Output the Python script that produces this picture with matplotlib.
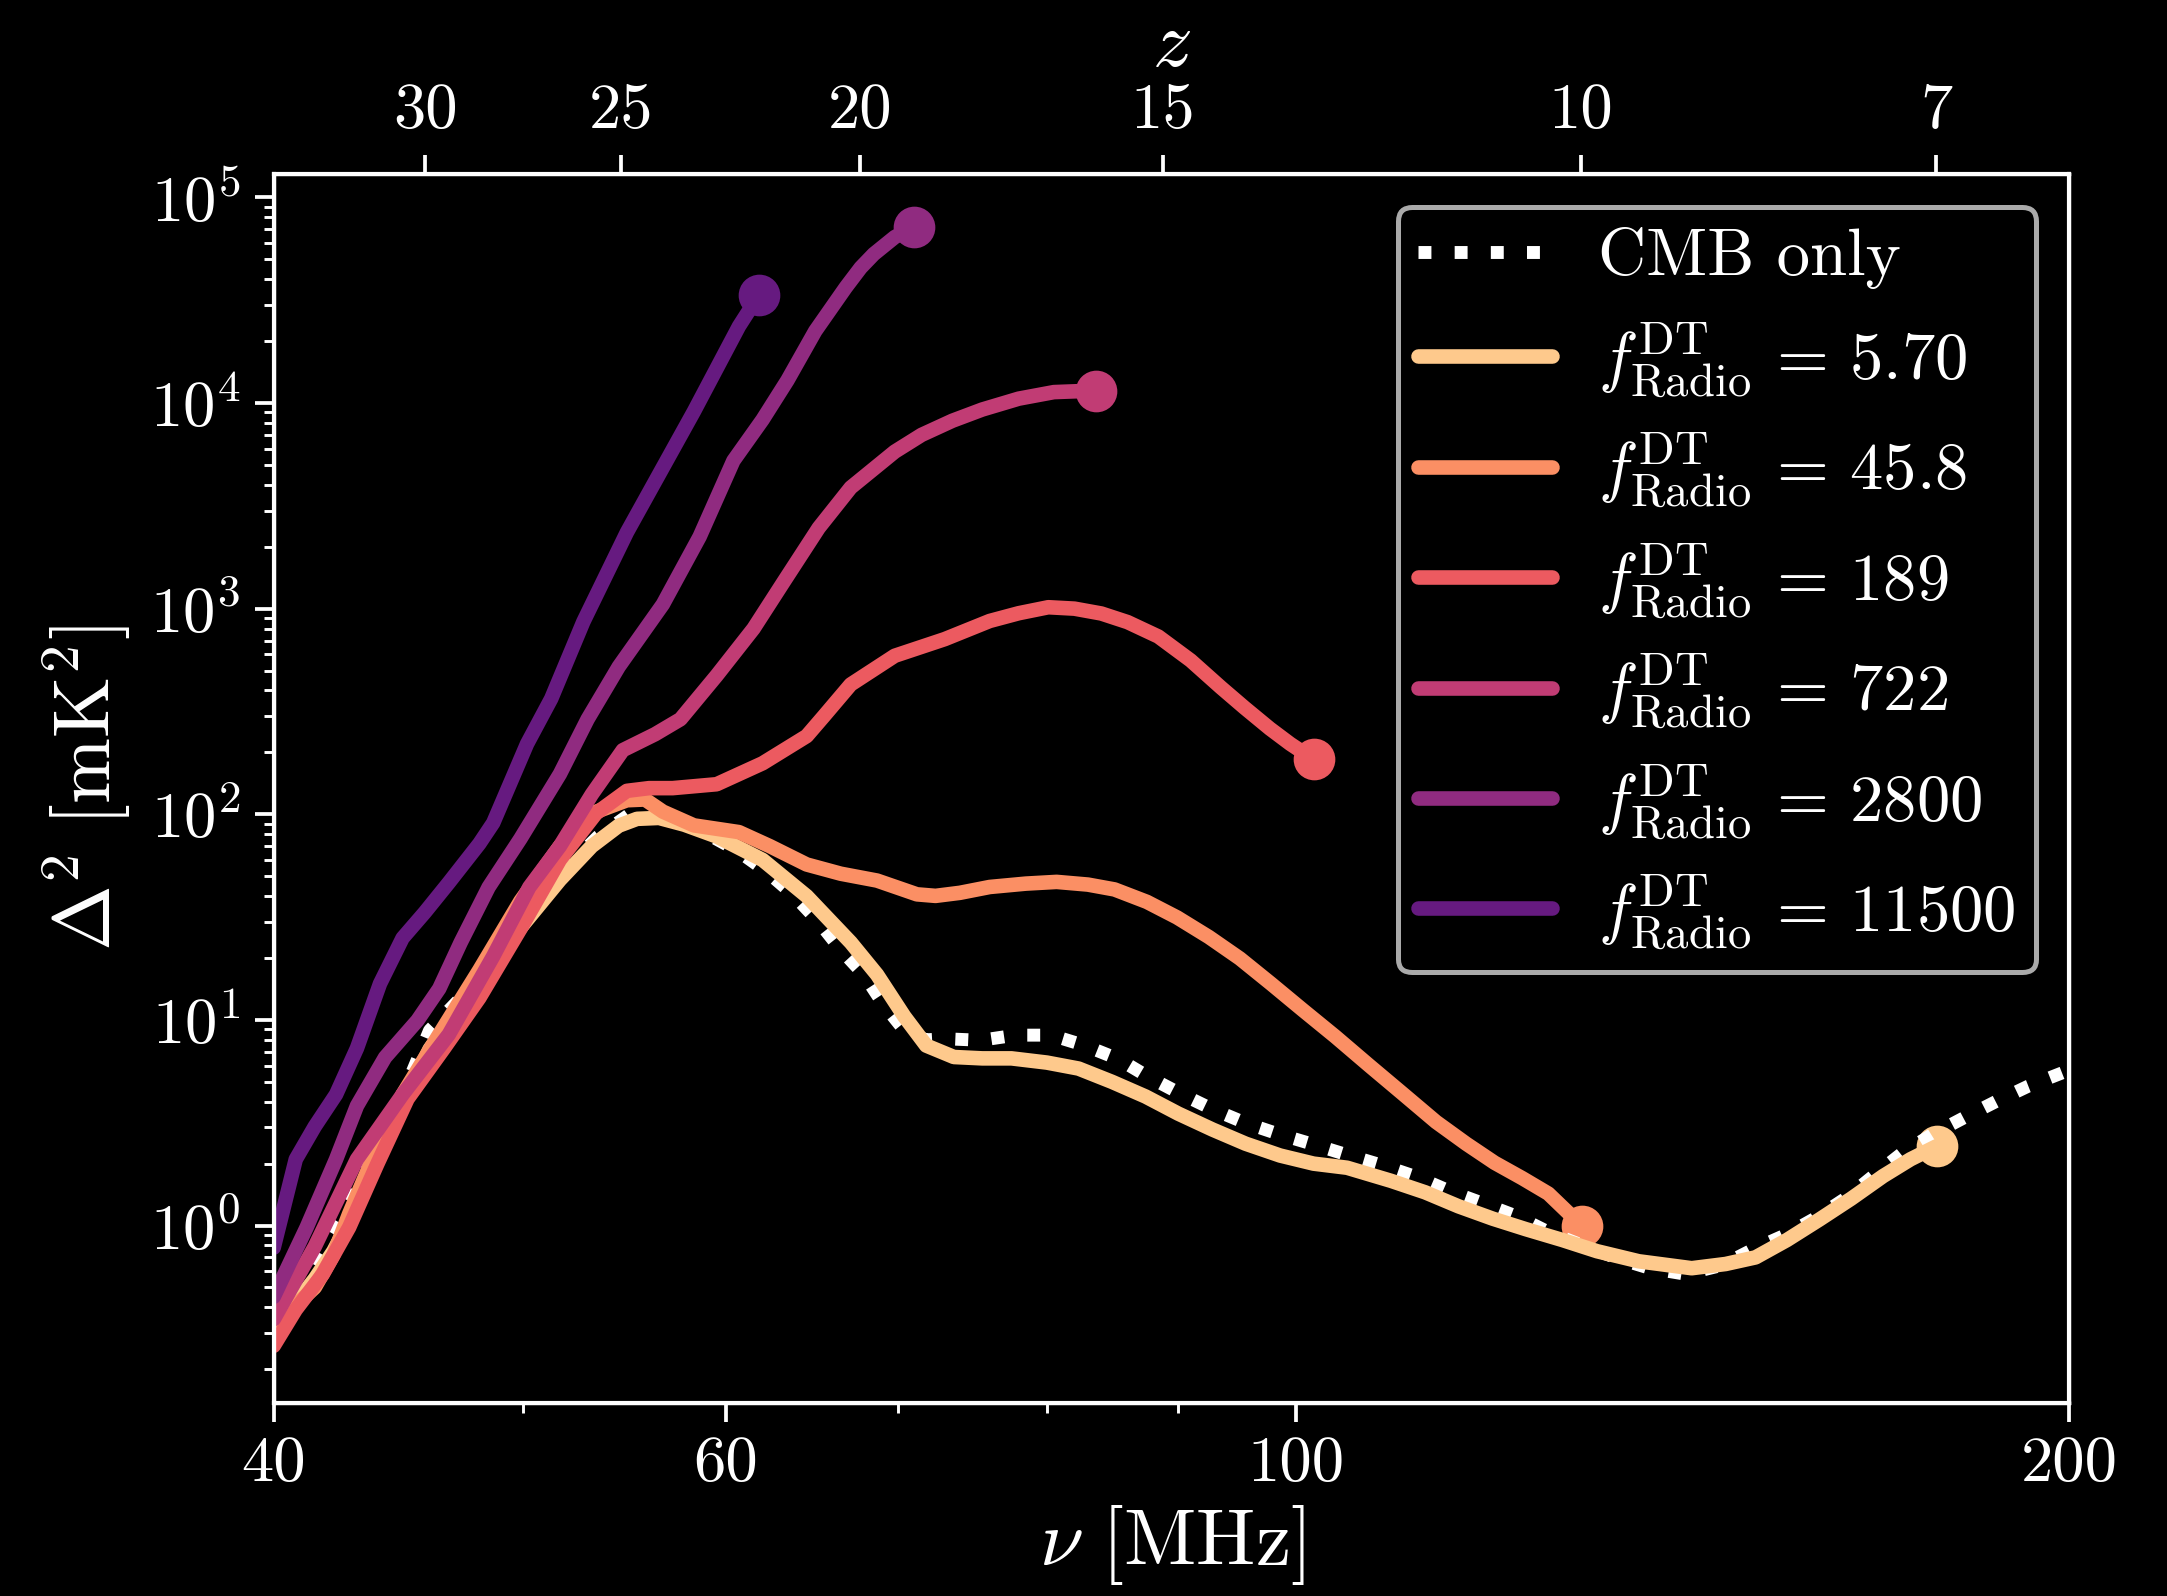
import matplotlib
matplotlib.use('Agg')
import matplotlib.pyplot as plt
from matplotlib.ticker import NullLocator, LogLocator
import numpy as np

plt.rcParams.update({
    'font.family': 'serif',
    'font.serif': ['cmr10'],
    'mathtext.fontset': 'cm',
    'axes.formatter.use_mathtext': True,
    'axes.unicode_minus': False,
    'figure.facecolor': 'black',
    'axes.facecolor': 'black',
    'text.color': 'white',
    'axes.edgecolor': 'white',
    'axes.labelcolor': 'white',
    'xtick.color': 'white',
    'ytick.color': 'white',
})

# CMB-only reference curve
nu_cmb = [40.0, 41.0, 42.0, 43.0, 44.0, 45.0, 46.0, 47.5, 49.0, 50.5, 52.0, 53.5, 55.4, 57.0,
          58.5, 60.6, 62.2, 63.7, 65.2, 66.5, 67.9, 69.1, 70.5, 71.8, 73.0, 75.4, 77.8, 80.3,
          82.7, 85.3, 87.7, 90.2, 92.8, 95.6, 98.6, 101.7, 104.8, 108.1, 111.5, 114.8, 118.3,
          121.9, 125.4, 130.0, 134.0, 137.3, 141.8, 146.5, 150.8, 155.1, 159.4, 163.9, 167.9,
          172.3, 176.9, 182.0, 187.4, 192.8, 198.8, 200.0]
d_cmb = [0.33, 0.5, 0.85, 1.4, 2.6, 4.6, 8.9, 13.5, 22, 36, 55, 78, 106, 100,
         85, 66.7, 52.9, 40.9, 30.0, 22.0, 16.6, 11.9, 8.71, 8.0, 8.1, 7.96, 8.43, 8.43,
         7.53, 6.45, 5.25, 4.37, 3.68, 3.15, 2.77, 2.47, 2.2, 1.96, 1.72, 1.47, 1.28,
         1.11, 0.93, 0.78, 0.68, 0.62, 0.58, 0.64, 0.77, 0.90, 1.09, 1.37, 1.75,
         2.26, 2.77, 3.34, 4.02, 4.76, 5.53, 5.7]

# f_Radio^DT = 5.70
nu_a = [40.0, 40.8, 41.5, 42.2, 42.8, 43.9, 45.1, 46.0, 47.0, 48.1, 49.9, 51.7, 53.2, 54.5,
        55.4, 56.5, 57.8, 59.5, 62.0, 64.5, 67.1, 68.7, 70.4, 71.8, 73.6, 75.5, 77.5, 80.0,
        82.3, 84.8, 87.4, 90.0, 92.8, 95.6, 98.6, 101.6, 104.7, 108.9, 112.3, 115.7, 119.3,
        122.9, 127.0, 131.0, 136.0, 142.6, 147.0, 151.0, 155.3, 159.9, 164.5, 169.3, 173.5, 177.6]
d_a = [0.33, 0.42, 0.55, 0.75, 1.05, 2.2, 4.4, 7.2, 10.5, 15.5, 28, 48, 70, 88,
       95, 96, 89, 78, 60, 40, 23.8, 16.6, 10.4, 7.5, 6.6, 6.5, 6.5, 6.2,
       5.8, 5.0, 4.24, 3.5, 2.93, 2.5, 2.19, 2.0, 1.91, 1.65, 1.45, 1.24, 1.08,
       0.96, 0.85, 0.75, 0.67, 0.62, 0.65, 0.70, 0.85, 1.07, 1.35, 1.74, 2.1, 2.43]

# f = 45.8
nu_b = [40.0, 40.35, 40.8, 41.5, 42.2, 42.8, 43.7, 44.9, 46.4, 48.1, 49.9, 51.7, 53.2, 54.9,
        55.8, 56.7, 58.3, 60.7, 62.4, 64.5, 66.5, 68.7, 71.2, 72.4, 74.0, 76.0, 78.5, 80.7,
        83.0, 85.0, 87.5, 89.9, 92.5, 95.1, 97.8, 100.6, 103.6, 106.8, 110.0, 113.4, 116.5,
        119.5, 122.5, 125.4, 129.3]
d_b = [0.32, 0.37, 0.41, 0.50, 0.72, 1.14, 2.1, 4.34, 8.5, 17.5, 37.8, 70, 101, 117,
       118, 103, 88.3, 81.9, 70, 57, 51.4, 47.6, 40.8, 40.1, 41.5, 44.3, 46, 46.9,
       45.5, 43.1, 37.5, 31.5, 25.3, 19.9, 15.0, 11.2, 8.3, 6.0, 4.4, 3.19, 2.5,
       2.02, 1.7, 1.43, 0.99]

# f = 189
nu_c = [40.0, 40.8, 41.8, 42.8, 43.9, 45.1, 46.6, 48.1, 49.9, 51.7, 53.4, 54.9, 56.0, 57.2,
        59.5, 62.0, 64.5, 65.5, 67.1, 69.8, 73.0, 76.0, 78.0, 80.1, 82.0, 84.0, 86.0, 88.4,
        91.0, 93.5, 95.5, 97.7, 99.5, 101.6]
d_c = [0.26, 0.39, 0.58, 0.98, 2.0, 4.13, 7.28, 12.8, 27.7, 60.1, 101, 130, 134, 134,
       140, 177, 240, 300, 428, 590, 711, 871, 950, 1016, 1000, 947, 860, 732,
       560, 414, 330, 261, 220, 185]

# f = 722
nu_d = [40.0, 41.5, 43.1, 44.9, 46.8, 48.7, 50.3, 51.7, 53.2, 54.7, 56.3, 57.6, 59.5, 61.5,
        63.2, 65.2, 67.1, 69.8, 71.5, 73.5, 75.5, 78.0, 80.5, 83.6]
d_d = [0.35, 0.79, 2.1, 4.34, 8.5, 20.4, 44.2, 70, 125, 205, 245, 290, 473, 800,
       1357, 2470, 3880, 5800, 7000, 8200, 9300, 10500, 11300, 11500]

# f = 2800
nu_e = [40.0, 41.2, 42.3, 43.1, 44.2, 45.5, 46.4, 47.3, 48.5, 49.9, 51.7, 53.0, 54.5, 56.7,
        58.6, 60.4, 62.0, 63.4, 65.0, 66.8, 67.7, 68.5, 69.8, 71.0]
d_e = [0.45, 0.98, 2.1, 3.82, 6.57, 9.93, 14.2, 23.8, 44.2, 76, 157, 290, 522, 1050,
       2240, 5240, 8300, 12900, 22400, 36500, 45500, 53000, 64100, 71600]

# f = 11500
nu_f = [40.0, 40.8, 41.5, 42.3, 43.1, 44.0, 44.9, 45.8, 46.8, 48.1, 48.7, 50.2, 51.3, 52.8,
        54.9, 58.3, 60.7, 61.8]
d_f = [0.78, 2.1, 3.03, 4.34, 7.28, 15, 25, 33.3, 46.5, 72, 90.8, 220, 365, 864,
       2350, 9100, 23600, 33500]

labels = ['5.70', '45.8', '189', '722', '2800', '11500']
colors = ['#fec98c', '#fb8f64', '#ec5a60', '#c13c74', '#902b80', '#661a80']
series = [(nu_a, d_a), (nu_b, d_b), (nu_c, d_c), (nu_d, d_d), (nu_e, d_e), (nu_f, d_f)]

z_ticks = [30, 25, 20, 15, 10, 7]

fig = plt.figure(figsize=(2167/300, 1596/300), dpi=300)
ax = fig.add_axes([0.1263, 0.1209, 0.8285, 0.7701])

ax.plot(nu_cmb, d_cmb, color='white', ls=(0, (1.0, 1.8)), lw=3.1, zorder=2, label='CMB only')
for (nu, d), lab, c in zip(series, labels, colors):
    ax.plot(nu, d, color=c, lw=3.5, zorder=3, solid_joinstyle='round', solid_capstyle='round',
            label=r'$f^{\rm DT}_{\rm Radio}\,=\,%s$' % lab)
    ax.plot(nu[-1], d[-1], 'o', color=c, ms=9, zorder=1)

ax.set_xscale('log')
ax.set_yscale('log')
ax.set_xlim(40, 200)
ax.set_ylim(0.137, 1.3e5)
ax.set_xticks([40, 60, 100, 200])
ax.set_xticklabels(['40', '60', '100', '200'])
ax.yaxis.set_major_locator(LogLocator(base=10, numticks=12))
ax.yaxis.set_minor_locator(LogLocator(base=10, subs=np.arange(2, 10), numticks=12))
ax.tick_params(which='major', length=4.5, width=0.9, labelsize=15.5)
ax.tick_params(which='minor', length=2.5, width=0.7)
for s in ax.spines.values():
    s.set_linewidth(1.0)

ax.set_xlabel(r'$\nu\ [\mathrm{MHz}]$', fontsize=19, labelpad=2)
ax.set_ylabel(r'$\Delta^2\ [\mathrm{mK}^2]$', fontsize=19, labelpad=4)

ax2 = ax.twiny()
ax2.set_xscale('log')
ax2.set_xlim(40, 200)
ax2.set_xticks([1420.4 / (1 + z) for z in z_ticks])
ax2.set_xticklabels([str(z) for z in z_ticks])
ax2.xaxis.set_minor_locator(NullLocator())
ax2.tick_params(which='major', length=4.5, width=0.9, labelsize=15.5)
ax2.set_xlabel(r'$z$', fontsize=19, labelpad=4)

leg = ax.legend(loc='upper right', fontsize=16, frameon=True, facecolor='black',
                edgecolor='#aaaaaa', framealpha=1.0, labelspacing=0.46, borderpad=0.3,
                handletextpad=0.7)
leg.get_frame().set_linewidth(1.2)

plt.savefig('out.png', dpi=300, facecolor='black')
plt.close(fig)
